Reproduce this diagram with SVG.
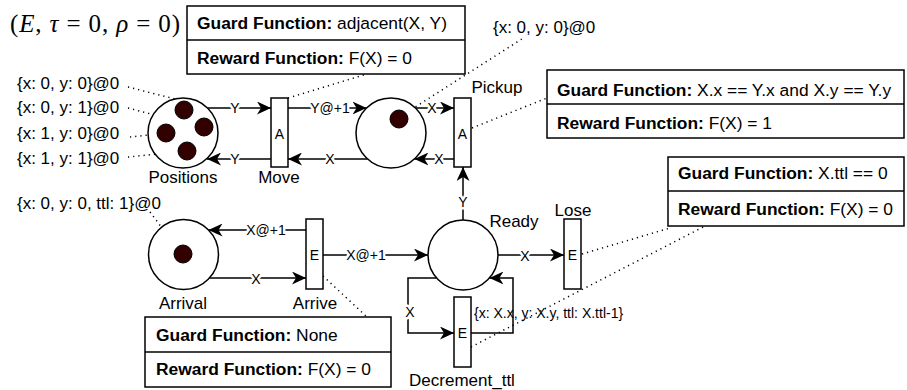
<svg xmlns="http://www.w3.org/2000/svg" width="907" height="390" viewBox="0 0 907 390">
<style>
  .place { fill: #ffffff; stroke: #000000; stroke-width: 1.5; }
  .trans { fill: #ffffff; stroke: #000000; stroke-width: 1.5; }
  .token { fill: #330000; stroke: #000000; stroke-width: 1; }
  .box { fill: #ffffff; stroke: #000000; stroke-width: 1.5; }
  .edge { fill: none; stroke: #000000; stroke-width: 1.5; }
  .dot { fill: none; stroke: #000000; stroke-width: 1.5; stroke-dasharray: 1.2 4; }
  text { font-family: "Liberation Sans", Arial, sans-serif; fill: #000000; }
  .lbl { font-size: 17px; }
  .mid { text-anchor: middle; }
  .elbl { font-size: 14px; text-anchor: middle; dominant-baseline: central; stroke: #ffffff; stroke-width: 5px; paint-order: stroke; stroke-linejoin: round; }
  .tl { font-size: 14px; text-anchor: middle; dominant-baseline: central; }
  .bt { font-size: 17.4px; }
  .b { font-weight: bold; }
  .math { font-family: "Liberation Serif", "DejaVu Serif", serif; font-size: 25px; }
</style>
<defs>
  <marker id="arr" markerUnits="userSpaceOnUse" markerWidth="15" markerHeight="13" viewBox="0 0 15 13" refX="14" refY="6.5" orient="auto">
    <path d="M0,0 L14,6.5 L0,13 L4,6.5 Z" fill="#000000"/>
  </marker>
</defs>

<text class="math" x="10" y="32" textLength="170" lengthAdjust="spacing">(<tspan font-style="italic">E</tspan>, <tspan font-style="italic">τ</tspan> = 0, <tspan font-style="italic">ρ</tspan> = 0)</text>

<g id="connectors">
  <path class="edge" d="M207.5,108 L271,108" marker-end="url(#arr)"/>
  <path class="edge" d="M271,159 L207,159" marker-end="url(#arr)"/>
  <path class="edge" d="M288,108 L366.5,108" marker-end="url(#arr)"/>
  <path class="edge" d="M367.6,159 L288,159" marker-end="url(#arr)"/>
  <path class="edge" d="M415.5,108 L454,108" marker-end="url(#arr)"/>
  <path class="edge" d="M454,159 L414.4,159" marker-end="url(#arr)"/>
  <path class="edge" d="M463,220 L463,167" marker-end="url(#arr)"/>
  <path class="edge" d="M498,255 L564,255" marker-end="url(#arr)"/>
  <path class="edge" d="M323,255 L428,255" marker-end="url(#arr)"/>
  <path class="edge" d="M306,230 L208.5,230" marker-end="url(#arr)"/>
  <path class="edge" d="M209.4,278 L306,278" marker-end="url(#arr)"/>
  <path class="edge" d="M436.6,278 L408,278 L408,333 L454,333" marker-end="url(#arr)"/>
  <path class="edge" d="M471,333 L513,333 L513,278 L489.4,278" marker-end="url(#arr)"/>

  <text class="elbl" x="235" y="108">Y</text>
  <text class="elbl" x="235" y="159">Y</text>
  <text class="elbl" x="330" y="108">Y@+1</text>
  <text class="elbl" x="330" y="159">X</text>
  <text class="elbl" x="432" y="108">X</text>
  <text class="elbl" x="439" y="159">X</text>
  <text class="elbl" x="463" y="202">Y</text>
  <text class="elbl" x="525" y="256">X</text>
  <text class="elbl" x="366" y="255">X@+1</text>
  <text class="elbl" x="266" y="230">X@+1</text>
  <text class="elbl" x="256" y="279">X</text>
  <text class="elbl" x="410" y="312">X</text>
  <text class="tl" x="474" y="313" style="text-anchor:start">{x: X.x, y: X.y, ttl: X.ttl-1}</text>
</g>

<g id="annotations">
  <path class="dot" d="M128,87 L175,99"/>
  <path class="dot" d="M128,108 L196,126"/>
  <path class="dot" d="M130,137 L158,134"/>
  <path class="dot" d="M128,157 L179,152"/>
  <path class="dot" d="M288,98 L367,74"/>
  <path class="dot" d="M398,118 L525,37"/>
  <path class="dot" d="M472,128 L547,98"/>
  <path class="dot" d="M582,254 L670,228"/>
  <path class="dot" d="M471,347 L705,226"/>
  <path class="dot" d="M323,276 L367,317"/>
  <path class="dot" d="M150,212 L180,252"/>
</g>

<g id="positions">
  <circle class="place" cx="183" cy="133" r="35"/>
  <circle class="token" cx="184" cy="110" r="9"/>
  <circle class="token" cx="204" cy="127" r="9"/>
  <circle class="token" cx="166" cy="133" r="9"/>
  <circle class="token" cx="187" cy="151" r="9"/>
  <text class="lbl mid" x="183" y="183">Positions</text>
  <text class="lbl" x="17" y="89">{x: 0, y: 0}@0</text>
  <text class="lbl" x="17" y="113">{x: 0, y: 1}@0</text>
  <text class="lbl" x="17" y="139">{x: 1, y: 0}@0</text>
  <text class="lbl" x="17" y="164">{x: 1, y: 1}@0</text>
</g>

<g id="move">
  <rect class="trans" x="271" y="98" width="17" height="69"/>
  <text class="tl" x="279.5" y="134">A</text>
  <text class="lbl mid" x="279" y="183">Move</text>
</g>

<g id="agent">
  <circle class="place" cx="391" cy="133" r="35"/>
  <circle class="token" cx="399" cy="119" r="9"/>
  <text class="lbl" x="493" y="33">{x: 0, y: 0}@0</text>
</g>

<g id="pickup">
  <rect class="trans" x="454" y="98" width="17" height="69"/>
  <text class="tl" x="462.5" y="134">A</text>
  <text class="lbl mid" x="497" y="93">Pickup</text>
</g>

<g id="ready">
  <circle class="place" cx="463" cy="255" r="35"/>
  <text class="lbl mid" x="514" y="227">Ready</text>
</g>

<g id="lose">
  <rect class="trans" x="564" y="219" width="17" height="70"/>
  <text class="tl" x="572.5" y="255">E</text>
  <text class="lbl mid" x="573" y="216">Lose</text>
</g>

<g id="decrement_ttl">
  <rect class="trans" x="454" y="297" width="17" height="70"/>
  <text class="tl" x="462.5" y="333">E</text>
  <text class="lbl mid" x="462" y="386">Decrement_ttl</text>
</g>

<g id="arrival">
  <circle class="place" cx="183.5" cy="254.5" r="35"/>
  <circle class="token" cx="183" cy="254" r="9"/>
  <text class="lbl mid" x="183" y="309">Arrival</text>
  <text class="lbl" x="17" y="209">{x: 0, y: 0, ttl: 1}@0</text>
</g>

<g id="arrive">
  <rect class="trans" x="306" y="219" width="17" height="70"/>
  <text class="tl" x="314.5" y="255">E</text>
  <text class="lbl mid" x="315" y="309">Arrive</text>
</g>

<g id="move_functions">
  <rect class="box" x="187" y="6" width="278" height="68"/>
  <line class="box" x1="187" y1="40" x2="465" y2="40"/>
  <text class="bt" x="197" y="29"><tspan class="b">Guard Function:</tspan> adjacent(X, Y)</text>
  <text class="bt" x="197" y="64"><tspan class="b">Reward Function:</tspan> F(X) = 0</text>
</g>

<g id="pickup_functions">
  <rect class="box" x="547" y="70" width="357" height="68"/>
  <line class="box" x1="547" y1="104" x2="904" y2="104"/>
  <text class="bt" x="557" y="96"><tspan class="b">Guard Function:</tspan> X.x == Y.x and X.y == Y.y</text>
  <text class="bt" x="557" y="129"><tspan class="b">Reward Function:</tspan> F(X) = 1</text>
</g>

<g id="lose_functions">
  <rect class="box" x="668" y="157" width="236" height="69"/>
  <line class="box" x1="668" y1="191" x2="904" y2="191"/>
  <text class="bt" x="678" y="179"><tspan class="b">Guard Function:</tspan> X.ttl == 0</text>
  <text class="bt" x="678" y="215"><tspan class="b">Reward Function:</tspan> F(X) = 0</text>
</g>

<g id="arrive_functions">
  <rect class="box" x="145" y="317" width="246" height="70"/>
  <line class="box" x1="145" y1="352" x2="391" y2="352"/>
  <text class="bt" x="156" y="341"><tspan class="b">Guard Function:</tspan> None</text>
  <text class="bt" x="156" y="375"><tspan class="b">Reward Function:</tspan> F(X) = 0</text>
</g>
</svg>
